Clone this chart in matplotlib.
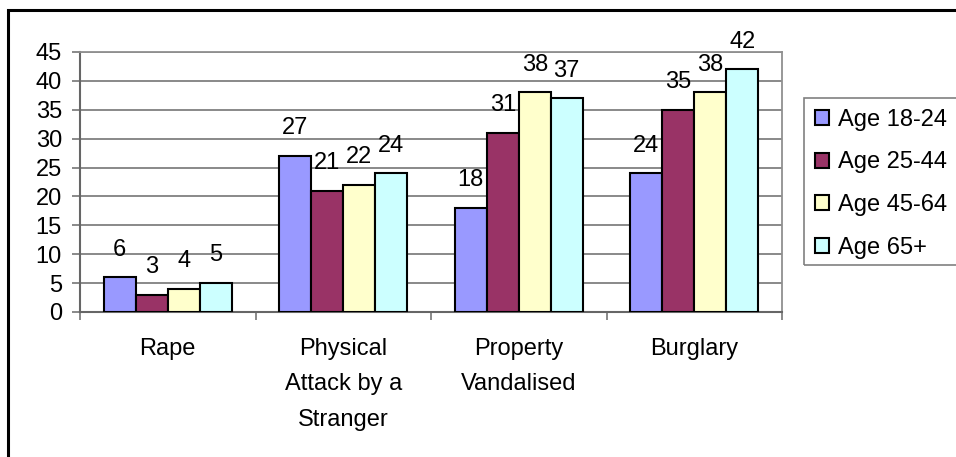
import numpy as np
import matplotlib.pyplot as plt
from matplotlib.patches import Rectangle

plt.rcParams['font.family'] = ['Liberation Sans', 'DejaVu Sans']

# data
categories = ['Rape', 'Physical\nAttack by a\nStranger', 'Property\nVandalised', 'Burglary']
series_names = ['Age 18-24', 'Age 25-44', 'Age 45-64', 'Age 65+']
age_18_24 = [6, 27, 18, 24]
age_25_44 = [3, 21, 31, 35]
age_45_64 = [4, 22, 38, 38]
age_65_plus = [5, 24, 37, 42]
colors = ['#9999FF', '#993366', '#FFFFCC', '#CCFFFF']

W, H = 956, 457
FS = 17
fig = plt.figure(figsize=(W / 100, H / 100), dpi=100)
ax = fig.add_axes([80 / W, 1 - 312 / H, (782 - 80) / W, 260 / H])

# outer chart border (right/bottom run off the image)
fig.patches.append(Rectangle((8 / W, -0.1), 1.2, 1 - 10 / H + 0.1,
                             transform=fig.transFigure, fill=False,
                             edgecolor='black', linewidth=2.2))
# legend box, also running off the right edge
fig.patches.append(Rectangle((804 / W, 1 - 265 / H), 0.3, 167 / H,
                             transform=fig.transFigure, fill=False,
                             edgecolor='#808080', linewidth=1.2))

x = np.arange(len(categories))
bw = 0.182
all_series = [age_18_24, age_25_44, age_45_64, age_65_plus]
for i, (vals, name, c) in enumerate(zip(all_series, series_names, colors)):
    pos = x + (i - 1.5) * bw
    ax.bar(pos, vals, width=bw, color=c, edgecolor='black', linewidth=1.5,
           label=name, zorder=3)
    for px, v in zip(pos, vals):
        ax.annotate(str(v), (px, v), xytext=(0, 12), textcoords='offset points',
                    ha='center', va='bottom', fontsize=FS)

ax.set_xlim(-0.5, len(categories) - 0.5)
ax.set_ylim(0, 45)
ax.set_yticks(np.arange(0, 46, 5))
ax.yaxis.grid(True, color='#808080', linewidth=1.3, zorder=0)
ax.set_axisbelow(True)

ax.set_xticks(x)
ax.set_xticklabels(categories, linespacing=1.77)
ax.set_xticks(np.arange(-0.5, len(categories), 1), minor=True)
ax.tick_params(axis='x', which='major', length=0, pad=19, labelsize=FS)
ax.tick_params(axis='x', which='minor', length=6, width=1.3, color='#808080')
ax.tick_params(axis='y', length=6, width=1.3, color='#808080', pad=7, labelsize=FS)

for s in ['left', 'bottom']:
    ax.spines[s].set_color('#666666')
    ax.spines[s].set_linewidth(1.5)
for s in ['top', 'right']:
    ax.spines[s].set_color('#909090')
    ax.spines[s].set_linewidth(1.3)

leg = fig.legend(loc='upper left', bbox_to_anchor=(804 / W, 1 - 98 / H),
                 bbox_transform=fig.transFigure, borderaxespad=0,
                 fontsize=FS, frameon=False,
                 handlelength=0.6, handleheight=0.6,
                 handletextpad=0.4, labelspacing=0.88, borderpad=0.45)

fig.savefig('out.png', dpi=100)
